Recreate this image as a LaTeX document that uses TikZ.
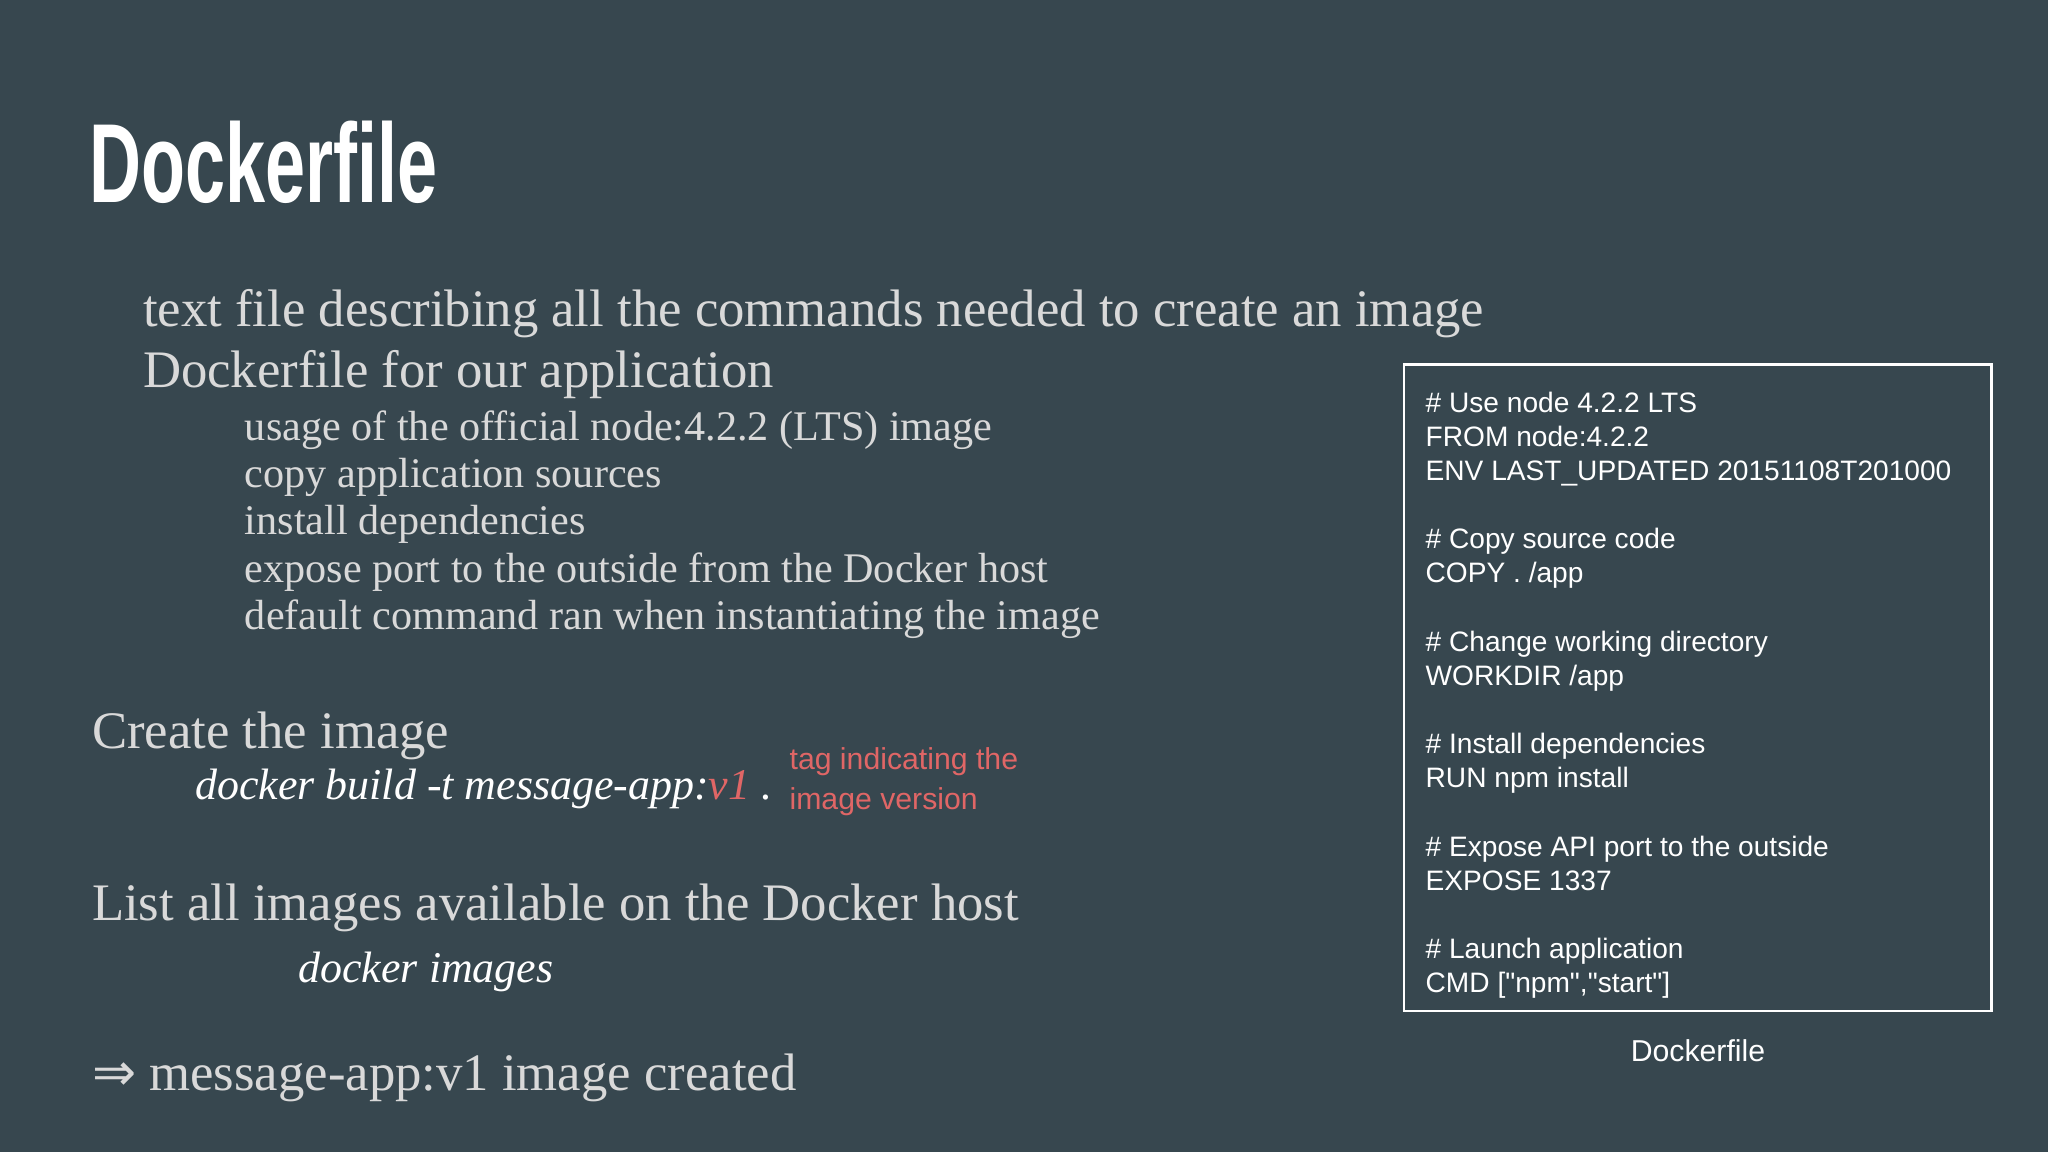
\documentclass[tikz,border=0pt]{standalone}
\usepackage{fontspec}
\setmainfont{Liberation Serif}
\newfontfamily\codefont{Liberation Sans}
\newfontfamily\titlefont{Liberation Sans}
\newfontfamily\symfont{DejaVu Sans}
\usepackage{graphicx}
\definecolor{bg}{HTML}{37474F}
\definecolor{txt}{HTML}{D9D9D9}
\definecolor{tagred}{HTML}{E06666}
\tikzset{
  big/.style={anchor=base west,inner sep=0,text=txt,font=\fontsize{15}{18}\selectfont},
  sub/.style={anchor=base west,inner sep=0,text=txt,font=\fontsize{12}{14}\selectfont},
  cmd/.style={anchor=base west,inner sep=0,text=white,font=\fontsize{12.5}{15}\selectfont\itshape},
  code/.style={anchor=base west,inner sep=0,text=white,font=\fontsize{8}{10}\selectfont\codefont},
  red/.style={anchor=base west,inner sep=0,text=tagred,font=\fontsize{8.6}{10}\selectfont\codefont},
}
\begin{document}
\begin{tikzpicture}[x=0.013061cm,y=-0.013061cm]
\fill[bg] (0,0) rectangle (1568,882);
\useasboundingbox (0,0) rectangle (1568,882);
\node[anchor=base west,inner sep=0,text=white,font=\fontsize{32}{36}\selectfont\titlefont\bfseries] (title) at (68,155) {\scalebox{0.64}[1]{Dockerfile}};
\node[big] (l1) at (109,250) {text file describing all the commands needed to create an image};
\node[big] (l2) at (109,297) {Dockerfile for our application};
\node[sub] (s1) at (187,337) {usage of the official node:4.2.2 (LTS) image};
\node[sub] (s2) at (187,373) {copy application sources};
\node[sub] (s3) at (187,409) {install dependencies};
\node[sub] (s4) at (187,446) {expose port to the outside from the Docker host};
\node[sub] (s5) at (187,482) {default command ran when instantiating the image};
\node[big] (c1) at (70,573) {Create the image};
\node[cmd] (c2) at (149,612) {docker build -t message-app:\textcolor{tagred}{v1} .};
\node[red] (t1) at (604,589) {tag indicating the};
\node[red] (t2) at (604,620) {image version};
\node[big] (li) at (70,705) {List all images available on the Docker host};
\node[cmd] (li2) at (228,752) {docker images};
\node[big] (res) at (70,835) {{\symfont ⇒} message-app:v1 image created};
\draw[white,line width=0.8pt] (1075,279) rectangle (1525,774);
\foreach \y/\t in {316/{\# Use node 4.2.2 LTS},342/{FROM node:4.2.2},368/{ENV LAST\_UPDATED 20151108T201000},
  420/{\# Copy source code},446/{COPY . /app},499/{\# Change working directory},525/{WORKDIR /app},
  577/{\# Install dependencies},603/{RUN npm install},656/{\# Expose API port to the outside},682/{EXPOSE 1337},
  734/{\# Launch application},760/{CMD ["npm","start"]}}
  \node[code] at (1091,\y) {\t};
\node[anchor=base,inner sep=0,text=white,font=\fontsize{8.6}{10}\selectfont\codefont] (cap) at (1300,813) {Dockerfile};
\end{tikzpicture}
\end{document}
